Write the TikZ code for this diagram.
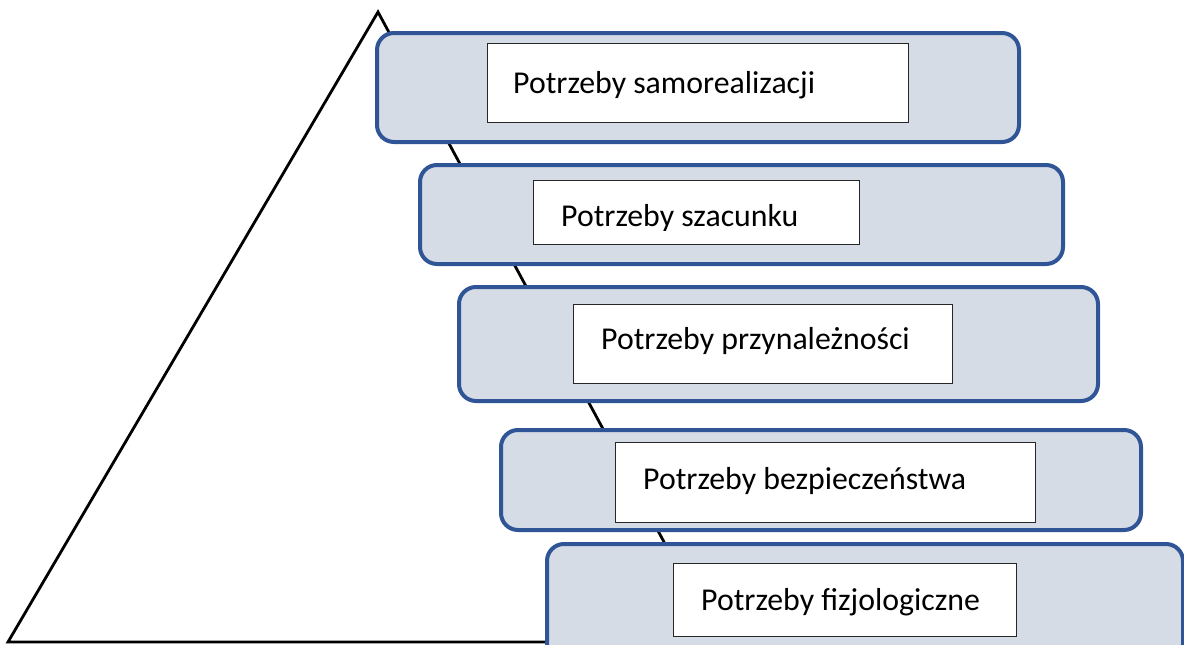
\documentclass[tikz,border=0pt]{standalone}
\usepackage{fontspec}
\setmainfont{Carlito}
\definecolor{tierfill}{HTML}{D6DCE5}
\definecolor{tierline}{HTML}{2F5597}
\begin{document}
\begin{tikzpicture}[x=1pt,y=-1pt,
  tier/.style={draw=tierline,line width=4pt,fill=tierfill,rounded corners=17pt},
  label box/.style={draw=black!85,line width=1.4pt,fill=white},
  tier text/.style={anchor=base west,inner sep=0pt,font=\fontsize{31.8}{36}\selectfont}]
\useasboundingbox (0,0) rectangle (1184,645);
\clip (0,0) rectangle (1184,645);

% pyramid outline
\coordinate (apex) at (378,12);
\coordinate (bl) at (8,642);
\coordinate (br) at (718,642);
\draw[line width=2.8pt,line join=miter] (apex) -- (bl) -- (br) -- cycle;

% tiers, top to bottom
\draw[tier] (377,33) rectangle (1019,142);
\draw[label box] (487.7,43.7) rectangle (908.3,122.3);
\node[tier text] (t1) at (513,93) {Potrzeby samorealizacji};

\draw[tier] (420,165) rectangle (1063,264);
\draw[label box] (533.7,180.7) rectangle (859.3,244.3);
\begin{scope}
  \clip (530,180) rectangle (862,230.5);
  \node[tier text] (t2) at (561,226) {Potrzeby szacunku};
\end{scope}

\draw[tier] (459,287) rectangle (1098,401);
\draw[label box] (573.7,304.7) rectangle (952.3,383.3);
\node[tier text] (t3) at (601,349) {Potrzeby przynależności};

\draw[tier] (501,430) rectangle (1141,530);
\draw[label box] (615.7,442.7) rectangle (1035.3,522.3);
\node[tier text] (t4) at (643,489) {Potrzeby bezpieczeństwa};

\draw[tier] (547,544) rectangle (1183,690);
\draw[label box] (673.7,563.7) rectangle (1016.3,636.3);
\node[tier text] (t5) at (701,610) {Potrzeby fizjologiczne};
\end{tikzpicture}
\end{document}
